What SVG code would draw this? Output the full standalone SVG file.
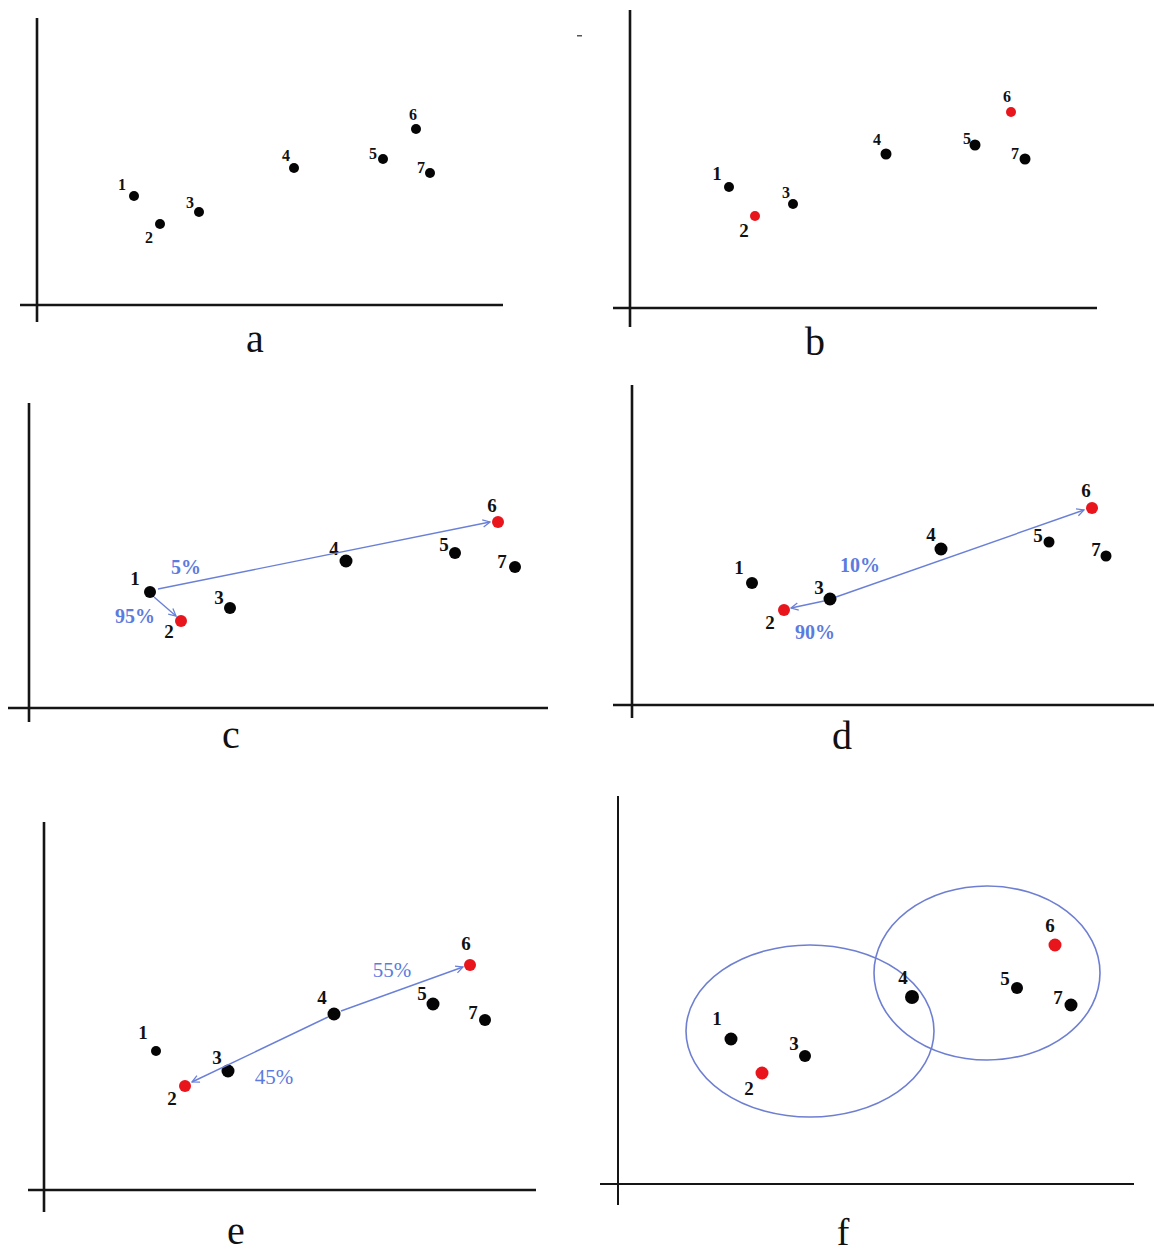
<svg xmlns="http://www.w3.org/2000/svg" width="1154" height="1256" viewBox="0 0 1154 1256">
<style>
.ax{stroke:#151515;stroke-width:2.6;fill:none}
.pt{fill:#050505}
.rd{fill:#e8161c}
.num{font-family:"Liberation Serif",serif;font-weight:bold;font-size:19px;fill:#111;text-anchor:middle}
.sm{font-size:16px}
.cap{font-family:"Liberation Serif",serif;font-size:40px;fill:#111;text-anchor:middle}
.pct{font-family:"Liberation Serif",serif;font-weight:bold;font-size:20px;fill:#5b7be0;text-anchor:middle}
.pr{font-weight:normal;font-size:21px}
.conn{stroke:#6a80d8;stroke-width:1.4;fill:none;marker-end:url(#ah)}
.ell{stroke:#6e7fd2;stroke-width:1.6;fill:none}
</style>
<defs>
<marker id="ah" viewBox="0 0 10 10" refX="9" refY="5" markerWidth="9" markerHeight="9" markerUnits="userSpaceOnUse" orient="auto">
<path d="M1,1 L9,5 L1,9" fill="none" stroke="#6a80d8" stroke-width="1.4"/>
</marker>
</defs>
<rect width="1154" height="1256" fill="#ffffff"/>
<rect x="577" y="35" width="5" height="1.5" fill="#555"/>

<!-- Panel a -->
<g id="panel-a">
<line class="ax" x1="37" y1="18" x2="37" y2="322"/>
<line class="ax" x1="20" y1="305" x2="503" y2="305"/>
<text class="cap" x="255" y="352">a</text>
<g id="a-n1"><circle class="pt" cx="134" cy="196" r="5"/><text class="num sm" x="122" y="190">1</text></g>
<g id="a-n2"><circle class="pt" cx="160" cy="224" r="5"/><text class="num sm" x="149" y="243">2</text></g>
<g id="a-n3"><circle class="pt" cx="199" cy="212" r="5"/><text class="num sm" x="190" y="208">3</text></g>
<g id="a-n4"><circle class="pt" cx="294" cy="168" r="5"/><text class="num sm" x="286" y="161">4</text></g>
<g id="a-n5"><circle class="pt" cx="383" cy="159" r="5"/><text class="num sm" x="373" y="159">5</text></g>
<g id="a-n6"><circle class="pt" cx="416" cy="129" r="5"/><text class="num sm" x="413" y="120">6</text></g>
<g id="a-n7"><circle class="pt" cx="430" cy="173" r="5"/><text class="num sm" x="421" y="173">7</text></g>
</g>

<!-- Panel b -->
<g id="panel-b">
<line class="ax" x1="630" y1="10" x2="630" y2="327"/>
<line class="ax" x1="613" y1="308" x2="1097" y2="308"/>
<text class="cap" x="815" y="355">b</text>
<g id="b-n1"><circle class="pt" cx="729" cy="187" r="5"/><text class="num" x="717" y="180">1</text></g>
<g id="b-n2"><circle class="rd" cx="755" cy="216" r="5"/><text class="num" x="744" y="237">2</text></g>
<g id="b-n3"><circle class="pt" cx="793" cy="204" r="5"/><text class="num sm" x="786" y="198">3</text></g>
<g id="b-n4"><circle class="pt" cx="886" cy="154" r="5.5"/><text class="num sm" x="877" y="145">4</text></g>
<g id="b-n5"><circle class="pt" cx="975" cy="145" r="5.5"/><text class="num sm" x="967" y="144">5</text></g>
<g id="b-n6"><circle class="rd" cx="1011" cy="112" r="5"/><text class="num sm" x="1007" y="102">6</text></g>
<g id="b-n7"><circle class="pt" cx="1025" cy="159" r="5.5"/><text class="num sm" x="1015" y="159">7</text></g>
</g>

<!-- Panel c -->
<g id="panel-c">
<line class="ax" x1="29" y1="403" x2="29" y2="722"/>
<line class="ax" x1="8" y1="708" x2="548" y2="708"/>
<text class="cap" x="231" y="748">c</text>
<g id="c-n1"><circle class="pt" cx="150" cy="592" r="6"/><text class="num" x="135" y="585">1</text></g>
<g id="c-n2"><circle class="rd" cx="181" cy="621" r="6"/><text class="num" x="169" y="638">2</text></g>
<g id="c-n3"><circle class="pt" cx="230" cy="608" r="6"/><text class="num" x="219" y="604">3</text></g>
<g id="c-n4"><circle class="pt" cx="346" cy="561" r="6.5"/><text class="num" x="334" y="555">4</text></g>
<g id="c-n5"><circle class="pt" cx="455" cy="553" r="6"/><text class="num" x="444" y="551">5</text></g>
<g id="c-n6"><circle class="rd" cx="498" cy="522" r="6"/><text class="num" x="492" y="512">6</text></g>
<g id="c-n7"><circle class="pt" cx="515" cy="567" r="6"/><text class="num" x="502" y="568">7</text></g>
<text class="pct" x="186" y="574">5%</text>
<text class="pct" x="135" y="623">95%</text>
</g>

<!-- Panel d -->
<g id="panel-d">
<line class="ax" x1="632" y1="385" x2="632" y2="718"/>
<line class="ax" x1="613" y1="705" x2="1154" y2="705"/>
<text class="cap" x="842" y="749">d</text>
<g id="d-n1"><circle class="pt" cx="752" cy="583" r="6"/><text class="num" x="739" y="574">1</text></g>
<g id="d-n2"><circle class="rd" cx="784" cy="610" r="6"/><text class="num" x="770" y="629">2</text></g>
<g id="d-n3"><circle class="pt" cx="830" cy="599" r="6.5"/><text class="num" x="819" y="594">3</text></g>
<g id="d-n4"><circle class="pt" cx="941" cy="549" r="6.5"/><text class="num" x="931" y="541">4</text></g>
<g id="d-n5"><circle class="pt" cx="1049" cy="542" r="5.5"/><text class="num" x="1038" y="542">5</text></g>
<g id="d-n6"><circle class="rd" cx="1092" cy="508" r="6"/><text class="num" x="1086" y="497">6</text></g>
<g id="d-n7"><circle class="pt" cx="1106" cy="556" r="5.5"/><text class="num" x="1096" y="556">7</text></g>
<text class="pct" x="860" y="572">10%</text>
<text class="pct" x="815" y="639">90%</text>
</g>

<!-- Panel e -->
<g id="panel-e">
<line class="ax" x1="44" y1="822" x2="44" y2="1212"/>
<line class="ax" x1="28" y1="1190" x2="536" y2="1190"/>
<text class="cap" x="236" y="1244">e</text>
<g id="e-n1"><circle class="pt" cx="156" cy="1051" r="5"/><text class="num" x="143" y="1039">1</text></g>
<g id="e-n2"><circle class="rd" cx="185" cy="1086" r="6"/><text class="num" x="172" y="1105">2</text></g>
<g id="e-n3"><circle class="pt" cx="228" cy="1071" r="6.5"/><text class="num" x="217" y="1064">3</text></g>
<g id="e-n4"><circle class="pt" cx="334" cy="1014" r="6.5"/><text class="num" x="322" y="1004">4</text></g>
<g id="e-n5"><circle class="pt" cx="433" cy="1004" r="6.5"/><text class="num" x="422" y="1000">5</text></g>
<g id="e-n6"><circle class="rd" cx="470" cy="965" r="6"/><text class="num" x="466" y="950">6</text></g>
<g id="e-n7"><circle class="pt" cx="485" cy="1020" r="6"/><text class="num" x="473" y="1019">7</text></g>
<text class="pct pr" x="392" y="977">55%</text>
<text class="pct pr" x="274" y="1084">45%</text>
</g>

<!-- Panel f -->
<g id="panel-f">
<line class="ax" x1="618" y1="796" x2="618" y2="1205" style="stroke-width:2"/>
<line class="ax" x1="600" y1="1184" x2="1134" y2="1184" style="stroke-width:2"/>
<text class="cap" x="843" y="1245" style="font-size:38px">f</text>
<ellipse id="f-cluster1" class="ell" cx="810" cy="1031" rx="124" ry="86"/>
<ellipse id="f-cluster2" class="ell" cx="987" cy="973" rx="113" ry="87"/>
<g id="f-n1"><circle class="pt" cx="731" cy="1039" r="6.5"/><text class="num" x="717" y="1025">1</text></g>
<g id="f-n2"><circle class="rd" cx="762" cy="1073" r="6.5"/><text class="num" x="749" y="1095">2</text></g>
<g id="f-n3"><circle class="pt" cx="805" cy="1056" r="6"/><text class="num" x="794" y="1050">3</text></g>
<g id="f-n4"><circle class="pt" cx="912" cy="997" r="7"/><text class="num" x="903" y="984">4</text></g>
<g id="f-n5"><circle class="pt" cx="1017" cy="988" r="6"/><text class="num" x="1005" y="985">5</text></g>
<g id="f-n6"><circle class="rd" cx="1055" cy="945" r="6.5"/><text class="num" x="1050" y="932">6</text></g>
<g id="f-n7"><circle class="pt" cx="1071" cy="1005" r="6.5"/><text class="num" x="1058" y="1004">7</text></g>
</g>

<!-- Connectors -->
<g id="connectors">
<line class="conn" x1="158" y1="589" x2="490" y2="522"/>
<line class="conn" x1="154" y1="597" x2="176" y2="616"/>
<line class="conn" x1="824" y1="601" x2="791" y2="608"/>
<line class="conn" x1="836" y1="597" x2="1084" y2="510"/>
<line class="conn" x1="328" y1="1017" x2="192" y2="1082"/>
<line class="conn" x1="341" y1="1011" x2="463" y2="967"/>
</g>
</svg>
